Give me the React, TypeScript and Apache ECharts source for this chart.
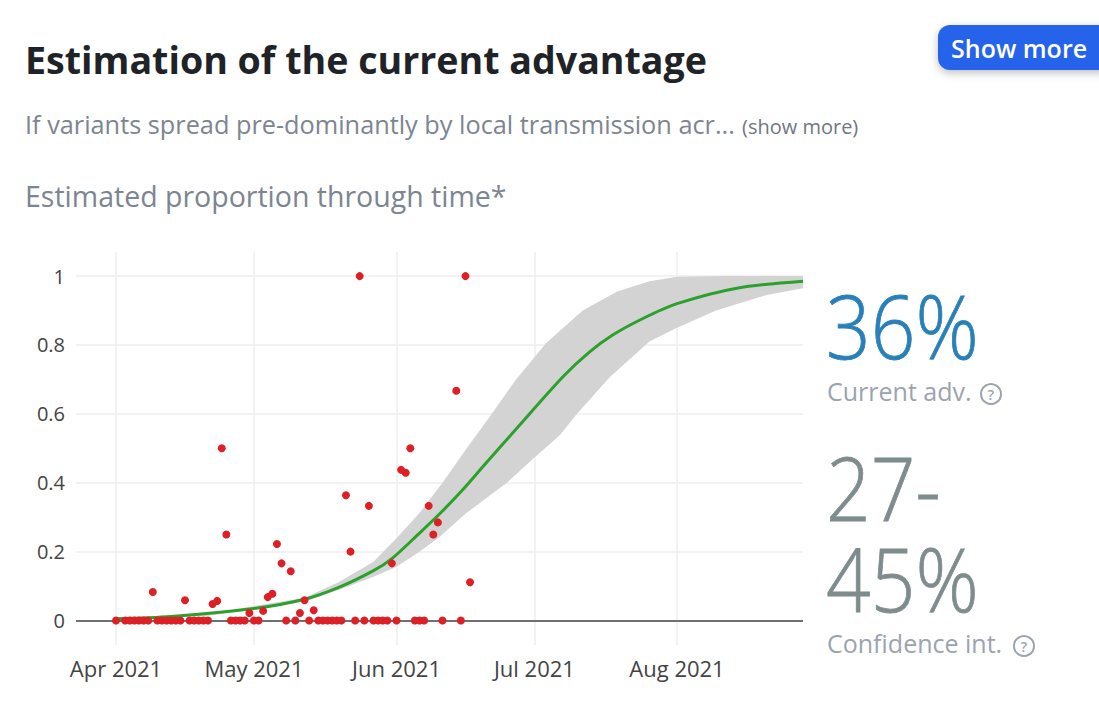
import React, { useEffect, useRef } from "react";
import * as echarts from "echarts";

const DAY = 86400000;
const START = Date.UTC(2021, 3, 1);
const toTime = (d: number) => START + d * DAY;

const zeroDays = [0, 2, 3, 4, 5, 6, 7, 9, 10, 11, 12, 13, 14, 16, 17, 18, 19, 20, 25, 26, 27, 28, 30, 31, 37, 39, 42, 44, 45, 46, 47, 48, 49, 52, 54, 56, 57, 58, 59, 61, 65, 66, 67, 71, 75];
const hitDays = [8, 15, 21, 22, 23, 24, 29, 32, 33, 34, 35, 36, 38, 40, 41, 43, 50, 51, 53, 55, 60, 62, 63, 64, 68, 69, 70, 74, 76, 77];
const hitValues = [0.083, 0.059, 0.048, 0.057, 0.5, 0.25, 0.022, 0.028, 0.068, 0.078, 0.222, 0.166, 0.143, 0.022, 0.059, 0.03, 0.364, 0.2, 1, 0.333, 0.166, 0.4375, 0.429, 0.5, 0.333, 0.25, 0.285, 0.667, 1, 0.111];

const medianDays = [0, 12, 30, 41, 48.7, 56, 60, 66, 70.4, 75.5, 80, 87.4, 97.2, 103, 108, 114.6, 122, 135, 149.4];
const medianValues = [0.005, 0.012, 0.035, 0.062, 0.098, 0.145, 0.18, 0.254, 0.31, 0.381, 0.45, 0.562, 0.708, 0.78, 0.829, 0.877, 0.92, 0.965, 0.985];

const upperDays = [0, 20, 41, 48.7, 56, 61, 66, 71, 76, 81.7, 87, 93.5, 101.5, 109, 116, 122, 132, 149.4];
const upperValues = [0.006, 0.02, 0.066, 0.113, 0.171, 0.239, 0.312, 0.4, 0.495, 0.6, 0.7, 0.805, 0.9, 0.955, 0.985, 0.998, 1, 1];
const lowerDays = [0, 20, 41, 48.7, 56, 61, 66, 70.4, 76, 85, 90.7, 96.5, 100.2, 107.4, 116, 122, 130.5, 141.5, 149.4];
const lowerValues = [0.004, 0.014, 0.055, 0.09, 0.127, 0.156, 0.2, 0.243, 0.31, 0.4, 0.47, 0.538, 0.6, 0.707, 0.81, 0.85, 0.9, 0.945, 0.965];

const yTickLabels: Record<string, string> = { "0": "0", "0.2": "0.2", "0.4": "0.4", "0.6": "0.6", "0.8": "0.8", "1": "1" };
const monthNames = ["Jan", "Feb", "Mar", "Apr", "May", "Jun", "Jul", "Aug", "Sep", "Oct", "Nov", "Dec"];

const FONT = "'Open Sans', sans-serif";

function helpIcon(cx: number, cy: number) {
  return [
    { type: "circle", shape: { cx, cy, r: 10 }, style: { fill: "none", stroke: "#9ca3af", lineWidth: 2 } },
    { type: "text", style: { x: cx, y: cy, text: "?", font: `600 14px ${FONT}`, fill: "#9ca3af", align: "center", verticalAlign: "middle" } },
  ];
}

function text(x: number, y: number, t: string, font: string, fill: string) {
  return { type: "text", style: { x, y, text: t, font, fill, verticalAlign: "middle" } };
}

function bigText(x: number, y: number, t: string, fill: string) {
  return {
    type: "text",
    x,
    y,
    scaleX: 0.89,
    style: { x: 0, y: 0, text: t, font: `300 88px ${FONT}`, fill, stroke: fill, lineWidth: 0.8, verticalAlign: "middle" },
  };
}

export default function App() {
  const ref = useRef<HTMLDivElement>(null);
  useEffect(() => {
    const chart = echarts.init(ref.current!, undefined, { renderer: "svg" });
    chart.setOption({
      animation: false,
      backgroundColor: "#fff",
      grid: { left: 76, right: 296, top: 252, height: 393 },
      xAxis: {
        type: "time",
        min: toTime(-8.7),
        max: toTime(149.4),
        minInterval: 28 * DAY,
        maxInterval: 31 * DAY,
        axisLine: { show: false },
        axisTick: { show: false },
        axisLabel: {
          color: "#444",
          fontFamily: FONT,
          fontSize: 22,
          margin: 12,
          hideOverlap: false,
          showMinLabel: false,
          showMaxLabel: false,
          formatter: (v: number) => {
            const d = new Date(v);
            return d.getUTCDate() === 1 ? `${monthNames[d.getUTCMonth()]} ${d.getUTCFullYear()}` : "";
          },
        },
        splitLine: { show: true, showMinLine: false, showMaxLine: false, lineStyle: { color: "#eeeeee", width: 1.5 } },
      },
      yAxis: {
        type: "value",
        min: -0.071,
        max: 1.07,
        splitNumber: 6,
        axisLine: { show: false },
        axisTick: { show: false },
        axisLabel: {
          color: "#444",
          fontFamily: FONT,
          fontSize: 20,
          margin: 11,
          formatter: (v: number) => yTickLabels[String(Math.round(v * 1000) / 1000)] ?? "",
        },
        splitLine: { show: true, showMinLine: false, showMaxLine: false, lineStyle: { color: "#eeeeee", width: 1.5 } },
      },
      series: [
        {
          type: "custom",
          name: "Confidence band",
          silent: true,
          z: 2,
          coordinateSystem: "cartesian2d",
          data: [[toTime(0), 0]],
          encode: { x: 0, y: 1 },
          renderItem: (_p: any, api: any) => {
            const up = upperDays.map((d, i) => api.coord([toTime(d), upperValues[i]]));
            const lo = lowerDays.map((d, i) => api.coord([toTime(d), lowerValues[i]])).reverse();
            return { type: "polygon", shape: { points: [...up, ...lo] }, style: { fill: "#d3d3d3" } };
          },
        },
        {
          type: "line",
          name: "Estimate",
          z: 3,
          data: medianDays.map((d, i) => [toTime(d), medianValues[i]]),
          showSymbol: false,
          smooth: 0.3,
          lineStyle: { color: "#2ca02c", width: 3 },
          markLine: {
            silent: true,
            symbol: "none",
            z: 1,
            label: { show: false },
            lineStyle: { color: "#444", width: 1.5, type: "solid" },
            data: [{ yAxis: 0 }],
          },
        },
        {
          type: "scatter",
          name: "Observed",
          z: 4,
          symbolSize: 8,
          itemStyle: { color: "#dc2026", opacity: 1 },
          data: [
            ...zeroDays.map((d) => [toTime(d), 0]),
            ...hitDays.map((d, i) => [toTime(d), hitValues[i]]),
          ],
        },
      ],
      graphic: [
        text(25, 59, "Estimation of the current advantage", `700 37.6px ${FONT}`, "#1f2328"),
        text(25, 124, "If variants spread pre-dominantly by local transmission acr...", `400 25.3px ${FONT}`, "#7c8591"),
        text(742, 126, "(show more)", `400 20px ${FONT}`, "#6f7783"),
        text(25, 196, "Estimated proportion through time*", `400 28.5px ${FONT}`, "#7c8591"),
        {
          type: "rect",
          shape: { x: 938, y: 25, width: 175, height: 45, r: 12 },
          style: { fill: "#2563eb", shadowBlur: 8, shadowColor: "rgba(0,0,0,0.25)", shadowOffsetY: 3 },
        },
        text(951, 48, "Show more", `600 25px ${FONT}`, "#ffffff"),
        bigText(826, 325, "36%", "#2980b9"),
        text(827, 391, "Current adv.", `400 25px ${FONT}`, "#9ca3af"),
        ...helpIcon(991, 394),
        bigText(826, 487, "27-", "#7f8c8d"),
        bigText(826, 578, "45%", "#7f8c8d"),
        text(827, 643, "Confidence int.", `400 25px ${FONT}`, "#9ca3af"),
        ...helpIcon(1024, 646),
      ],
    });
    return () => chart.dispose();
  }, []);
  return <div ref={ref} style={{ position: "fixed", left: 0, top: 0, width: 1099, height: 707 }} />;
}
